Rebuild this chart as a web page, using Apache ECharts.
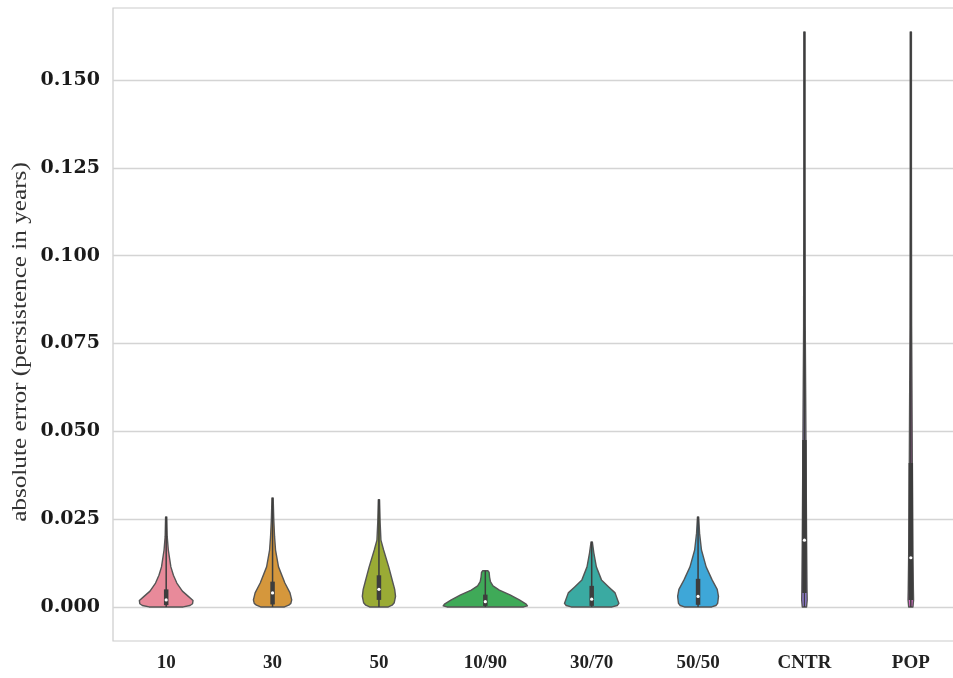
<!DOCTYPE html>
<html>
<head>
<meta charset="utf-8">
<script src="https://cdn.jsdelivr.net/npm/echarts@6/dist/echarts.min.js"></script>
<style>html,body{margin:0;padding:0;background:#fff}#c{width:953px;height:678px}</style>
</head>
<body>
<div id="c"></div>
<script>
// ---- data ----
const categories = ['10', '30', '50', '10/90', '30/70', '50/50', 'CNTR', 'POP'];
const yTicks = [0, 0.025, 0.05, 0.075, 0.1, 0.125, 0.15];
const yLabel = 'absolute error (persistence in years)';
const colors = ['#e88a9a', '#d5973c', '#9aab35', '#3faa58', '#3aaaa2', '#3ea7d8', '#9a82e0', '#d06bc0'];

// kernel density profile per category: error values and relative density (1 = widest violin)
const kdeY_10 = [0, 0.0004, 0.0009, 0.0018, 0.003, 0.0045, 0.0068, 0.009, 0.0114, 0.0162, 0.02, 0.0256];
const kdeD_10 = [0.40, 0.56, 0.62, 0.63, 0.52, 0.38, 0.25, 0.17, 0.11, 0.05, 0.024, 0.01];
const kdeY_30 = [0, 0.0005, 0.001, 0.002, 0.004, 0.0068, 0.0114, 0.0162, 0.02, 0.025, 0.031];
const kdeD_30 = [0.28, 0.38, 0.43, 0.45, 0.41, 0.29, 0.14, 0.07, 0.047, 0.028, 0.012];
const kdeY_50 = [0, 0.0005, 0.0012, 0.003, 0.005, 0.0068, 0.0114, 0.0162, 0.019, 0.024, 0.0305];
const kdeD_50 = [0.22, 0.31, 0.36, 0.39, 0.37, 0.33, 0.23, 0.11, 0.047, 0.028, 0.012];
const kdeY_10_90 = [0, 0.0003, 0.0008, 0.002, 0.0034, 0.0048, 0.006, 0.0072, 0.0085, 0.0098, 0.0103];
const kdeD_10_90 = [0.90, 0.99, 0.96, 0.80, 0.58, 0.33, 0.18, 0.12, 0.10, 0.09, 0.06];
const kdeY_30_70 = [0, 0.0004, 0.001, 0.002, 0.004, 0.0057, 0.0077, 0.0114, 0.0154, 0.0185];
const kdeD_30_70 = [0.48, 0.60, 0.64, 0.61, 0.55, 0.40, 0.23, 0.11, 0.05, 0.015];
const kdeY_50_50 = [0, 0.0004, 0.001, 0.003, 0.005, 0.0077, 0.0114, 0.0162, 0.021, 0.0256];
const kdeD_50_50 = [0.32, 0.42, 0.46, 0.48, 0.45, 0.33, 0.19, 0.08, 0.035, 0.01];
const kdeY_CNTR = [0, 0.002, 0.005, 0.02, 0.048, 0.08, 0.12, 0.1637];
const kdeD_CNTR = [0.05, 0.065, 0.06, 0.05, 0.035, 0.019, 0.012, 0.007];
const kdeY_POP = [0, 0.002, 0.005, 0.015, 0.041, 0.08, 0.12, 0.1637];
const kdeD_POP = [0.05, 0.065, 0.06, 0.05, 0.035, 0.019, 0.012, 0.007];

// inner box statistics
const whiskerLow = [0, 0, 0, 0, 0, 0, 0, 0];
const q1 = [0.0005, 0.0007, 0.002, 0.0003, 0.0003, 0.0006, 0.004, 0.002];
const median = [0.002, 0.004, 0.005, 0.0015, 0.0022, 0.003, 0.019, 0.014];
const q3 = [0.005, 0.0072, 0.009, 0.0035, 0.006, 0.008, 0.0475, 0.041];
const whiskerHigh = [0.0256, 0.031, 0.0305, 0.0103, 0.0185, 0.0256, 0.1637, 0.1637];

const kdeY = [kdeY_10, kdeY_30, kdeY_50, kdeY_10_90, kdeY_30_70, kdeY_50_50, kdeY_CNTR, kdeY_POP];
const kdeD = [kdeD_10, kdeD_30, kdeD_50, kdeD_10_90, kdeD_30_70, kdeD_50_50, kdeD_CNTR, kdeD_POP];

// ---- chart ----
const chart = echarts.init(document.getElementById('c'));
const lineColor = '#3d3d3d';

function renderViolin(params, api) {
  const i = api.value(0);
  const ys = kdeY[i], ds = kdeD[i];
  const band = api.size([1, 0])[0];
  const maxHalf = band * 0.4;
  const left = [], right = [];
  for (let k = 0; k < ys.length; k++) {
    const c = api.coord([i, ys[k]]);
    const hw = Math.max(ds[k] * maxHalf, 0.6);
    left.push([c[0] - hw, c[1]]);
    right.unshift([c[0] + hw, c[1]]);
  }
  const pts = left.concat(right);
  const cLo = api.coord([i, whiskerLow[i]]);
  const cHi = api.coord([i, whiskerHigh[i]]);
  const cQ1 = api.coord([i, q1[i]]);
  const cQ3 = api.coord([i, q3[i]]);
  const cMed = api.coord([i, median[i]]);
  const bw = 4.5;
  return {
    type: 'group',
    children: [
      { type: 'polygon', shape: { points: pts },
        style: { fill: colors[i], stroke: '#555555', lineWidth: 1.4, lineJoin: 'round' } },
      { type: 'line', shape: { x1: cLo[0], y1: cLo[1], x2: cHi[0], y2: cHi[1] },
        style: { stroke: lineColor, lineWidth: 1.5 } },
      { type: 'rect', shape: { x: cQ3[0] - bw / 2, y: cQ3[1], width: bw, height: cQ1[1] - cQ3[1] },
        style: { fill: lineColor } },
      { type: 'circle', shape: { cx: cMed[0], cy: cMed[1], r: 1.6 },
        style: { fill: '#ffffff' } }
    ]
  };
}

chart.setOption({
  animation: false,
  backgroundColor: '#ffffff',
  grid: { left: 113, top: 8, width: 851, height: 633, outerBoundsMode: 'none', containLabel: false,
          show: true, borderColor: '#cccccc', borderWidth: 1.2, backgroundColor: 'transparent' },
  xAxis: {
    type: 'category',
    data: categories,
    axisLine: { show: false },
    axisTick: { show: false },
    splitLine: { show: false },
    axisLabel: { margin: 13, color: '#222222', fontFamily: 'Liberation Serif', fontWeight: 'bold', fontSize: 19 }
  },
  yAxis: {
    type: 'value',
    min: -0.0097,
    max: 0.1705,
    axisLine: { show: false },
    axisTick: { show: false, customValues: yTicks },
    splitLine: { show: true, lineStyle: { color: '#d4d4d4', width: 1.3 } },
    axisLabel: {
      customValues: yTicks,
      margin: 13, color: '#1a1a1a', fontFamily: 'DejaVu Serif', fontWeight: 'bold', fontSize: 19,
      formatter: v => v.toFixed(3)
    }
  },
  graphic: [{
    type: 'text', x: 20, y: 342, rotation: Math.PI / 2, scaleX: 1.2,
    style: { text: yLabel, fontFamily: 'Liberation Serif', fontSize: 21, fill: '#333333', textAlign: 'center', textVerticalAlign: 'middle' }
  }],
  series: [{
    type: 'custom',
    renderItem: renderViolin,
    encode: { x: 0, y: 1 },
    data: categories.map((c, i) => [i, whiskerHigh[i]]),
    clip: false
  }]
});
</script>
</body>
</html>
